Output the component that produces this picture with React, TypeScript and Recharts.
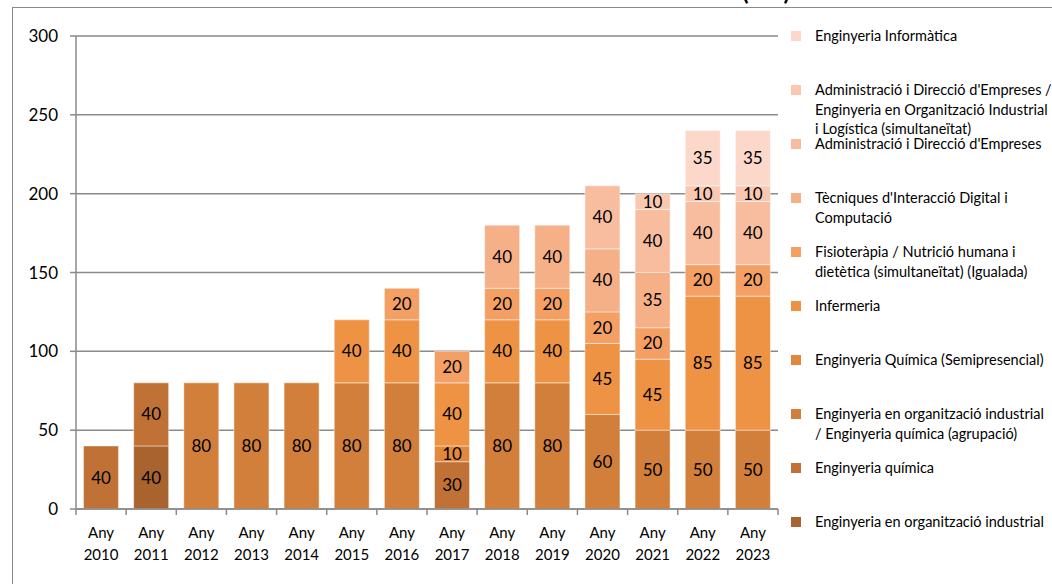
import React from "react";
import { BarChart, Bar, XAxis, YAxis, CartesianGrid, LabelList } from "recharts";

const years = ["2010", "2011", "2012", "2013", "2014", "2015", "2016", "2017", "2018", "2019", "2020", "2021", "2022", "2023"];

// one array per degree, bottom of the stack first
const eoi = [null, 40, null, null, null, null, null, null, null, null, null, null, null, null];
const quimica = [40, 40, null, null, null, null, null, 30, null, null, null, null, null, null];
const agrupacio = [null, null, 80, 80, 80, 80, 80, null, 80, 80, 60, 50, 50, 50];
const semipresencial = [null, null, null, null, null, null, null, 10, null, null, null, null, null, null];
const infermeria = [null, null, null, null, null, 40, 40, 40, 40, 40, 45, 45, 85, 85];
const fisio = [null, null, null, null, null, null, 20, 20, 20, 20, 20, 20, 20, 20];
const tidc = [null, null, null, null, null, null, null, null, 40, 40, 40, 35, null, null];
const ade = [null, null, null, null, null, null, null, null, null, null, 40, 40, 40, 40];
const adeEoi = [null, null, null, null, null, null, null, null, null, null, null, 10, 10, 10];
const informatica = [null, null, null, null, null, null, null, null, null, null, null, null, 35, 35];

const yTicks = [0, 50, 100, 150, 200, 250, 300];

const series = [
  { key: "eoi", name: ["Enginyeria en organització industrial"], values: eoi, color: "#a8632e" },
  { key: "quimica", name: ["Enginyeria química"], values: quimica, color: "#c07236" },
  { key: "agrupacio", name: ["Enginyeria en organització industrial", "/ Enginyeria química (agrupació)"], values: agrupacio, color: "#d17f3b" },
  { key: "semipresencial", name: ["Enginyeria Química (Semipresencial)"], values: semipresencial, color: "#e0883d" },
  { key: "infermeria", name: ["Infermeria"], values: infermeria, color: "#ee9243" },
  { key: "fisio", name: ["Fisioteràpia / Nutrició humana i", "dietètica (simultaneïtat) (Igualada)"], values: fisio, color: "#f4a064" },
  { key: "tidc", name: ["Tècniques d'Interacció Digital i", "Computació"], values: tidc, color: "#f6b088" },
  { key: "ade", name: ["Administració i Direcció d'Empreses"], values: ade, color: "#f8bd9f" },
  { key: "adeEoi", name: ["Administració i Direcció d'Empreses /", "Enginyeria en Organització Industrial", "i Logística (simultaneïtat)"], values: adeEoi, color: "#fac8b0" },
  { key: "informatica", name: ["Enginyeria Informàtica"], values: informatica, color: "#fbd8c9" },
];

const data = years.map((y, i) => {
  const row: Record<string, string | number | null> = { year: y };
  series.forEach((s) => (row[s.key] = s.values[i]));
  return row;
});

const W = 1052;
const H = 584;
const margin = { top: 36, right: 274, bottom: 15, left: 0 };
const yAxisWidth = 76;
const bandWidth = (W - margin.left - yAxisWidth - margin.right) / years.length;
const font = "Lato, 'Open Sans', sans-serif";
const gridColor = "#8a8a8a";

const YearTick = (props: any) => {
  const { x, y, payload, index } = props;
  const left = x - bandWidth / 2;
  const right = x + bandWidth / 2;
  return (
    <g>
      <line x1={left} x2={left} y1={y} y2={y + 6} stroke={gridColor} strokeWidth={1.5} />
      {index === years.length - 1 && (
        <line x1={right} x2={right} y1={y} y2={y + 6} stroke={gridColor} strokeWidth={1.5} />
      )}
      <text x={x} y={y + 29} textAnchor="middle" fontSize={15} fontFamily={font} fill="#000">Any</text>
      <text x={x} y={y + 51} textAnchor="middle" fontSize={15} fontFamily={font} fill="#000">{payload.value}</text>
    </g>
  );
};

const legendItems = [...series].reverse();

export default function App() {
  return (
    <div style={{ position: "absolute", left: 0, top: 0, width: W, height: H, overflow: "hidden", background: "#fff" }}>
      <div style={{ position: "absolute", left: 12, top: 7, width: W + 40, height: H + 40, border: "1px solid #8a8a8a" }} />
      <div
        style={{
          position: "absolute", right: 262, top: -24, fontFamily: font, fontWeight: 700,
          fontSize: 24, lineHeight: "30px", whiteSpace: "nowrap", color: "#000",
        }}
      >
        Nombre d'estudiants nous (EEI)
      </div>
      <BarChart width={W} height={H} data={data} margin={margin} barCategoryGap="15%">
        <CartesianGrid vertical={false} stroke={gridColor} strokeWidth={1.5} />
        <XAxis
          dataKey="year"
          height={60}
          tickSize={0}
          tickMargin={0}
          interval={0}
          axisLine={{ stroke: gridColor, strokeWidth: 1.5 }}
          tick={<YearTick />}
        />
        <YAxis
          width={yAxisWidth}
          domain={[0, 300]}
          ticks={yTicks}
          tickSize={6}
          tickMargin={12}
          axisLine={{ stroke: gridColor, strokeWidth: 1.5 }}
          tickLine={{ stroke: gridColor, strokeWidth: 1.5 }}
          tick={{ fontSize: 17, fontFamily: font, fill: "#000" }}
        />
        {series.map((s) => (
          <Bar
            key={s.key}
            dataKey={s.key}
            stackId="a"
            fill={s.color}
            stroke="rgba(255,255,255,0.45)"
            strokeWidth={1}
            isAnimationActive={false}
          >
            <LabelList
              dataKey={s.key}
              position="center"
              fill="#000"
              fontSize={17}
              fontFamily={font}
              formatter={(v: any) => (v == null ? "" : v)}
            />
          </Bar>
        ))}
      </BarChart>
      {legendItems.map((s, i) => (
        <div
          key={s.key}
          style={{
            position: "absolute", left: 791, top: 36 + i * 54 - 10, fontFamily: font,
            fontSize: 14.5, lineHeight: "19.5px", color: "#000", whiteSpace: "nowrap",
          }}
        >
          <span
            style={{
              position: "absolute", left: 0, top: 5, width: 10, height: 10, background: s.color,
            }}
          />
          <div style={{ marginLeft: 24 }}>
            {s.name.map((line, j) => (
              <div key={j}>{line}</div>
            ))}
          </div>
        </div>
      ))}
    </div>
  );
}
